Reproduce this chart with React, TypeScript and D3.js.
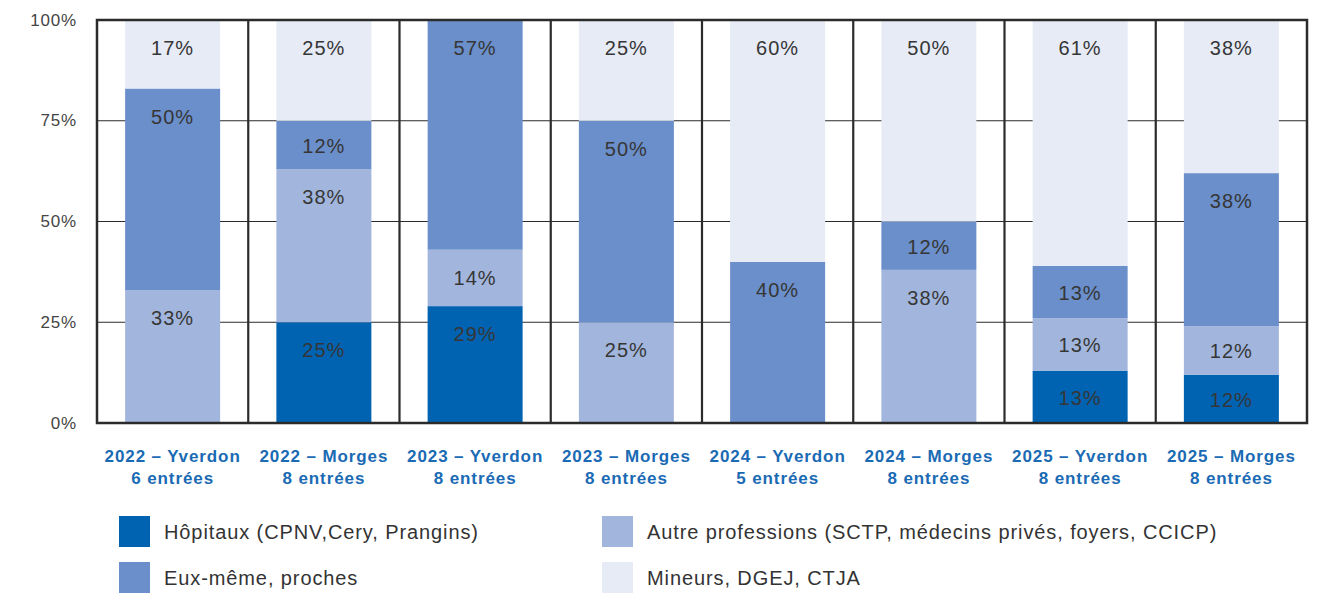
import React, { useEffect, useRef } from 'react';
import * as d3 from 'd3';

const categories = [
  '2022 – Yverdon', '2022 – Morges', '2023 – Yverdon', '2023 – Morges',
  '2024 – Yverdon', '2024 – Morges', '2025 – Yverdon', '2025 – Morges',
];
const entries = ['6 entrées', '8 entrées', '8 entrées', '8 entrées', '5 entrées', '8 entrées', '8 entrées', '8 entrées'];

// stacked bottom -> top
const hopitaux = [0, 25, 29, 0, 0, 0, 13, 12];
const autres = [33, 38, 14, 25, 0, 38, 13, 12];
const euxMeme = [50, 12, 57, 50, 40, 12, 13, 38];
const mineurs = [17, 25, 0, 25, 60, 50, 61, 38];

const yTicks = [0, 25, 50, 75, 100];

const series = [
  { key: 'hop', label: 'Hôpitaux (CPNV,Cery, Prangins)', values: hopitaux, color: '#0063b2' },
  { key: 'autre', label: 'Autre professions (SCTP, médecins privés, foyers, CCICP)', values: autres, color: '#a2b6dd' },
  { key: 'eux', label: 'Eux-même, proches', values: euxMeme, color: '#6a8fca' },
  { key: 'min', label: 'Mineurs, DGEJ, CTJA', values: mineurs, color: '#e6ebf6' },
];

// legend order (two columns)
const legendOrder = ['hop', 'autre', 'eux', 'min'];

const W = 1332;
const H = 594;
const FONT = '"Liberation Sans", Arial, sans-serif';

export default function App() {
  const svgRef = useRef<SVGSVGElement>(null);

  useEffect(() => {
    const svg = d3.select(svgRef.current);
    svg.selectAll('*').remove();

    const margin = { top: 20, left: 97, right: 25, bottom: 171 };
    const innerW = W - margin.left - margin.right;
    const innerH = H - margin.top - margin.bottom;

    const x = d3.scaleBand().domain(categories).range([0, innerW]).paddingInner(0).paddingOuter(0);
    const y = d3.scaleLinear().domain([0, 100]).range([innerH, 0]);
    const barW = 95;

    const g = svg.append('g').attr('transform', `translate(${margin.left},${margin.top})`);

    // gridlines
    g.append('g')
      .selectAll('line')
      .data(yTicks.filter(t => t > 0 && t < 100))
      .join('line')
      .attr('x1', 0)
      .attr('x2', innerW)
      .attr('y1', d => y(d))
      .attr('y2', d => y(d))
      .attr('stroke', '#2b2b2b')
      .attr('stroke-width', 1);

    // stacked data
    const rows = categories.map((c, i) => {
      const r: any = { cat: c };
      series.forEach(s => (r[s.key] = s.values[i]));
      return r;
    });
    const stack = d3.stack().keys(series.map(s => s.key));
    const stacked = stack(rows);

    stacked.forEach((layer, li) => {
      const s = series[li];
      const lg = g.append('g');
      layer.forEach((d: any, i) => {
        const v = d[1] - d[0];
        if (v <= 0) return;
        const cx = x(categories[i])! + x.bandwidth() / 2;
        const top = y(d[1]);
        const bottom = y(d[0]);
        lg.append('rect')
          .attr('x', cx - barW / 2)
          .attr('width', barW)
          .attr('y', top)
          .attr('height', bottom - top)
          .attr('fill', s.color);
        const ly = Math.min(top + 28, (top + bottom) / 2 + 1);
        lg.append('text')
          .attr('x', cx)
          .attr('y', ly)
          .attr('text-anchor', 'middle')
          .attr('dominant-baseline', 'central')
          .attr('fill', '#363636')
          .style('font-family', FONT)
          .style('font-size', '20px')
          .style('letter-spacing', '1px')
          .text(`${s.values[i]}%`);
      });
    });

    // dividers and frame
    g.append('g')
      .selectAll('line')
      .data(categories.slice(1))
      .join('line')
      .attr('x1', d => x(d)!)
      .attr('x2', d => x(d)!)
      .attr('y1', 0)
      .attr('y2', innerH)
      .attr('stroke', '#2b2b2b')
      .attr('stroke-width', 2.2);

    g.append('rect')
      .attr('x', 0)
      .attr('y', 0)
      .attr('width', innerW)
      .attr('height', innerH)
      .attr('fill', 'none')
      .attr('stroke', '#2b2b2b')
      .attr('stroke-width', 2.5);

    // y tick labels
    g.append('g')
      .selectAll('text')
      .data(yTicks)
      .join('text')
      .attr('x', -20)
      .attr('y', d => y(d))
      .attr('text-anchor', 'end')
      .attr('dominant-baseline', 'central')
      .attr('fill', '#444')
      .style('font-family', FONT)
      .style('font-size', '17px')
      .style('letter-spacing', '0.8px')
      .text(d => `${d}%`);

    // x labels
    const xl = g.append('g');
    categories.forEach((c, i) => {
      const cx = x(c)! + x.bandwidth() / 2;
      const t = xl.append('text')
        .attr('text-anchor', 'middle')
        .attr('fill', '#1a6ab4')
        .style('font-family', FONT)
        .style('font-size', '17px')
        .style('font-weight', 'bold')
        .style('letter-spacing', '0.9px');
      t.append('tspan').attr('x', cx).attr('y', innerH + 39).text(c);
      t.append('tspan').attr('x', cx).attr('y', innerH + 61).text(entries[i]);
    });

    // legend
    const legend = svg.append('g');
    legendOrder.forEach((k, i) => {
      const s = series.find(d => d.key === k)!;
      const col = i % 2;
      const row = Math.floor(i / 2);
      const lx = col === 0 ? 119 : 602;
      const ly = 516 + row * 46;
      legend.append('rect')
        .attr('x', lx)
        .attr('y', ly)
        .attr('width', 31)
        .attr('height', 31)
        .attr('fill', s.color);
      legend.append('text')
        .attr('x', lx + 45)
        .attr('y', ly + 16)
        .attr('dominant-baseline', 'central')
        .attr('fill', '#333')
        .style('font-family', FONT)
        .style('font-size', '20px')
        .style('letter-spacing', '0.9px')
        .text(s.label);
    });
  }, []);

  return (
    <svg
      ref={svgRef}
      width={W}
      height={H}
      style={{ position: 'absolute', left: 0, top: 0, background: '#fff', display: 'block' }}
    />
  );
}
